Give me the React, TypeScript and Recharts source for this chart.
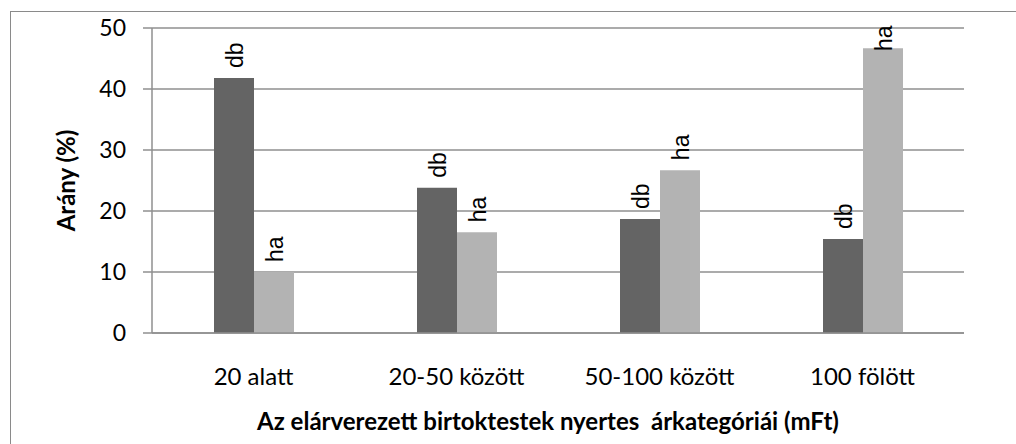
import React from 'react';
import { BarChart, Bar, XAxis, YAxis, CartesianGrid, LabelList, Label } from 'recharts';

const categories = ['20 alatt', '20-50 között', '50-100 között', '100 fölött'];
const dbValues = [41.8, 23.8, 18.7, 15.4];
const haValues = [10.0, 16.5, 26.7, 46.7];
const yTicks = [0, 10, 20, 30, 40, 50];
const seriesNames = ['db', 'ha'];
const yTitle = 'Arány (%)';
const xTitle = 'Az elárverezett birtoktestek nyertes  árkategóriái (mFt)';

const data = categories.map((c, i) => ({ cat: c, db: dbValues[i], ha: haValues[i] }));

const MARGIN = { top: 28, right: 52, bottom: 0, left: 0 };
const GRID = '#8f8f8f';
const TICK_FONT = 'Lato, "Open Sans", sans-serif';

const makeLabel = (text: string) => (props: any) => {
  const { x, y, width } = props;
  const cx = x + width / 2 + 1;
  const len = 23;
  const anchorY = Math.max(y - 10, MARGIN.top + len);
  return (
    <text
      x={cx}
      y={anchorY}
      transform={`rotate(-90, ${cx}, ${anchorY})`}
      textAnchor="start"
      dominantBaseline="central"
      fontFamily='"Liberation Sans", Arial, sans-serif'
      fontSize={23}
      fill="#000"
    >
      {text}
    </text>
  );
};

const YTitle = (props: any) => {
  const vb = props.viewBox;
  const x = vb.x + 65;
  const y = vb.y + vb.height / 2;
  return (
    <text x={x} y={y} transform={`rotate(-90, ${x}, ${y})`} textAnchor="middle" dominantBaseline="central"
      fontFamily={TICK_FONT} fontWeight="bold" fontSize={24} fill="#000">
      {yTitle}
    </text>
  );
};

const XTitle = (props: any) => {
  const vb = props.viewBox;
  const x = vb.x + vb.width / 2 - 10;
  const y = vb.y + 87;
  return (
    <text x={x} y={y} textAnchor="middle" dominantBaseline="central" style={{ whiteSpace: 'pre' }}
      fontFamily={TICK_FONT} fontWeight="bold" fontSize={24} fill="#000">
      {xTitle}
    </text>
  );
};

export default function App() {
  return (
    <div style={{ position: 'fixed', left: 0, top: 0, width: 1016, height: 444, overflow: 'hidden', background: '#fff' }}>
      <div style={{ position: 'absolute', left: 10, top: 11, width: 1100, height: 500, border: '1.5px solid #8a8a8a', boxSizing: 'border-box' }} />
      <div style={{ position: 'absolute', left: 0, top: 0 }}>
        <BarChart width={1016} height={444} data={data} margin={MARGIN} barGap={0} barSize={40}>
          <CartesianGrid vertical={false} stroke={GRID} strokeWidth={1.5} />
          <XAxis
            dataKey="cat"
            height={111}
            axisLine={{ stroke: GRID, strokeWidth: 1.5 }}
            tickLine={false}
            tickSize={0}
            tickMargin={35}
            tick={{ fill: '#000', fontSize: 24, fontFamily: TICK_FONT }}
            interval={0}
          >
            <Label content={<XTitle />} />
          </XAxis>
          <YAxis
            width={152}
            domain={[0, 50]}
            ticks={yTicks}
            interval={0}
            axisLine={{ stroke: GRID, strokeWidth: 1.5 }}
            tickLine={{ stroke: GRID, strokeWidth: 1.5 }}
            tickSize={9}
            tickMargin={17}
            tick={{ fill: '#000', fontSize: 23, fontFamily: TICK_FONT }}
          >
            <Label content={<YTitle />} />
          </YAxis>
          <Bar dataKey="db" fill="#646464" isAnimationActive={false}>
            <LabelList dataKey="db" content={makeLabel(seriesNames[0])} />
          </Bar>
          <Bar dataKey="ha" fill="#b3b3b3" isAnimationActive={false}>
            <LabelList dataKey="ha" content={makeLabel(seriesNames[1])} />
          </Bar>
        </BarChart>
      </div>
    </div>
  );
}
